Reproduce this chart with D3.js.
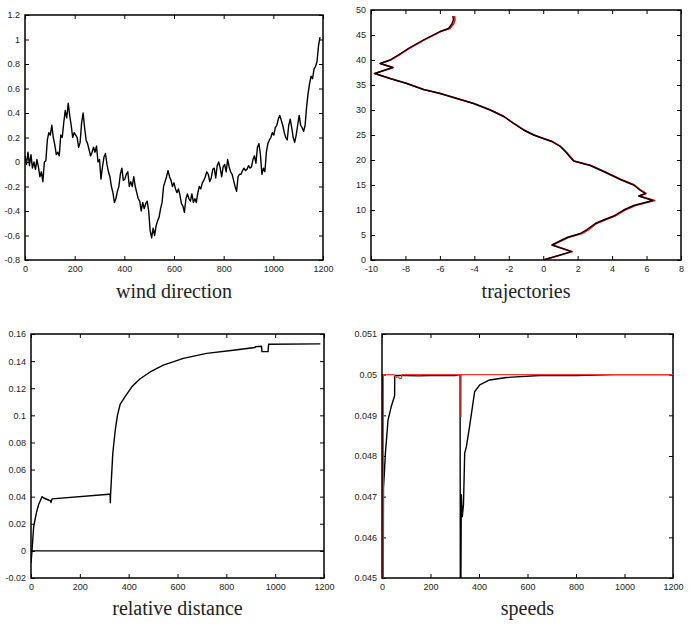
<!DOCTYPE html>
<html>
<head>
<meta charset="utf-8">
<script src="https://cdn.jsdelivr.net/npm/d3@7"></script>
<style>
  body { margin: 0; background: #fff; }
  .tick text { font-family: "Liberation Sans", Arial, sans-serif; font-size: 9px; fill: #222; }
  .tick line { stroke: #000; stroke-width: 1; }
  .title { font-family: "Liberation Serif", "DejaVu Serif", serif; font-size: 20px; fill: #222; }
</style>
</head>
<body>
<svg width="690" height="626"></svg>
<script>

// wind direction, one value every 6 time steps from t = 0
var windStep = 6;
var windV = [0.05, -0.02, 0.08, -0.03, 0.06, -0.05, 0.0, -0.06, 0.02, -0.04, -0.12, -0.08, -0.16, 0.0, 0.01, 0.18, 0.24, 0.22, 0.3, 0.2,
  0.14, 0.06, 0.08, 0.05, 0.22, 0.2, 0.32, 0.42, 0.36, 0.48, 0.38, 0.3, 0.2, 0.24, 0.22, 0.2, 0.12, 0.16, 0.32, 0.4,
  0.28, 0.18, 0.15, 0.1, 0.05, 0.08, 0.12, 0.08, 0.13, 0.0, 0.02, -0.14, -0.04, 0.04, 0.07, -0.02, -0.08, -0.12, -0.2, -0.25,
  -0.33, -0.3, -0.24, -0.2, -0.1, -0.05, -0.15, -0.14, -0.1, -0.08, -0.2, -0.16, -0.2, -0.12, -0.2, -0.25, -0.3, -0.32, -0.4, -0.33,
  -0.38, -0.34, -0.32, -0.4, -0.56, -0.62, -0.54, -0.6, -0.52, -0.48, -0.45, -0.38, -0.33, -0.2, -0.16, -0.12, -0.07, -0.12, -0.15, -0.2,
  -0.17, -0.22, -0.25, -0.22, -0.27, -0.34, -0.36, -0.41, -0.3, -0.26, -0.3, -0.32, -0.26, -0.33, -0.3, -0.33, -0.25, -0.2, -0.22, -0.17,
  -0.15, -0.12, -0.08, -0.1, -0.16, -0.13, -0.06, -0.05, -0.13, -0.03, 0.0, -0.05, -0.12, -0.04, -0.02, -0.08, 0.02, -0.04, -0.08, -0.1,
  -0.15, -0.2, -0.24, -0.12, -0.1, -0.1, -0.07, -0.05, -0.07, -0.06, -0.03, -0.05, -0.04, 0.02, 0.05, -0.01, 0.12, 0.15, 0.06, -0.1,
  -0.05, -0.08, 0.08, 0.15, 0.18, 0.2, 0.24, 0.22, 0.28, 0.3, 0.35, 0.38, 0.34, 0.3, 0.24, 0.2, 0.18, 0.3, 0.35, 0.28,
  0.2, 0.16, 0.22, 0.3, 0.38, 0.3, 0.28, 0.25, 0.3, 0.45, 0.56, 0.64, 0.7, 0.68, 0.76, 0.78, 0.82, 0.95, 1.02];

// trajectories (x, y)
var trajY      = [0, 1.67, 3.0, 4.5, 5.3, 6.1, 7.3, 8.0, 8.8, 10.0, 10.9, 11.9, 12.8, 13.3, 13.9, 15.0, 16.1, 17.7, 18.9, 19.8, 20.7, 21.7, 22.7, 23.7, 24.3, 25.0, 26.0, 27.3, 28.7, 30.0, 31.3, 32.3, 33.3, 34.1, 35.3, 36.3, 37.3, 38.5, 39.3, 40.0, 41.0, 42.3, 44.0, 45.7, 46.3, 47.2, 48.1, 48.8];
var trajBlackX = [0, 1.63, 0.5, 1.38, 2.15, 2.54, 3.02, 3.5, 4.09, 4.67, 5.25, 6.36, 5.54, 5.93, 5.64, 5.25, 4.48, 3.5, 2.73, 1.76, 1.53, 1.28, 0.99, 0.5, 0, -0.56, -1.14, -1.72, -2.3, -3.08, -4.05, -5.02, -5.99, -6.96, -7.93, -8.9, -9.77, -8.74, -9.48, -8.9, -8.41, -7.83, -6.96, -5.99, -5.5, -5.31, -5.21, -5.25];
var trajRedX   = [0.02, 1.7, 0.55, 1.45, 2.25, 2.65, 3.1, 3.58, 4.17, 4.75, 5.35, 6.48, 5.6, 5.98, 5.7, 5.3, 4.52, 3.55, 2.77, 1.8, 1.57, 1.32, 1.02, 0.53, 0.03, -0.53, -1.11, -1.69, -2.27, -3.05, -4.02, -4.99, -5.96, -6.93, -7.9, -8.87, -9.8, -8.7, -9.45, -8.86, -8.37, -7.8, -6.92, -5.95, -5.42, -5.2, -5.12, -5.15];

// relative distance
var relT = [0, 4, 11, 22, 31, 45, 52, 79, 82, 86, 320, 324, 325, 326, 329, 335, 345, 354, 365, 386, 413, 447, 488, 542, 624, 719, 828, 917, 919, 944, 946, 971, 973, 1185];
var relD = [-0.009, 0, 0.018, 0.028, 0.034, 0.04, 0.039, 0.037, 0.0357, 0.0384, 0.0418, 0.0418, 0.0355, 0.042, 0.052, 0.072, 0.089, 0.1, 0.108, 0.114, 0.121, 0.127, 0.132, 0.137, 0.142, 0.1457, 0.148, 0.15, 0.1507, 0.151, 0.147, 0.147, 0.1524, 0.1527];

// speeds
var speedBlackT = [0, 3, 3.5, 5, 6, 10, 14, 25, 38, 52, 52.5, 100, 150, 200, 250, 300, 322, 323, 325, 327, 331, 336, 341, 348, 361, 382, 403, 444, 513, 650, 800, 966, 1200];
var speedBlackV = [0.05, 0.05, 0.0445, 0.0445, 0.04722, 0.0476, 0.04807, 0.04889, 0.04921, 0.04948, 0.04998, 0.04998, 0.04997, 0.04998, 0.04998, 0.04998, 0.05, 0.0445, 0.0445, 0.04705, 0.04651, 0.0468, 0.04807, 0.04823, 0.04872, 0.04958, 0.04975, 0.04987, 0.04993, 0.04998, 0.04998, 0.05, 0.05];
var speedRedT = [0, 5, 6, 50, 52, 60, 66, 72, 80, 82, 325, 326, 326.5, 1200];
var speedRedV = [0.0445, 0.0445, 0.05, 0.05, 0.04997, 0.04993, 0.04995, 0.04991, 0.04991, 0.05, 0.05, 0.04897, 0.05, 0.05];

var svg = d3.select("svg");

function fmt(v) { return String(+v.toFixed(4)); }

// one framed panel with inward ticks on all four sides
function panel(id, box, xDom, yDom, xTicks, yTicks, title, titleY) {
  var x = d3.scaleLinear().domain(xDom).range([box.x0, box.x1]);
  var y = d3.scaleLinear().domain(yDom).range([box.y1, box.y0]);
  var g = svg.append("g");

  g.append("clipPath").attr("id", id)
    .append("rect")
    .attr("x", box.x0).attr("y", box.y0)
    .attr("width", box.x1 - box.x0).attr("height", box.y1 - box.y0);

  g.append("g").attr("transform", "translate(0," + box.y1 + ")")
    .call(d3.axisBottom(x).tickValues(xTicks).tickSize(-4).tickPadding(6).tickFormat(fmt));
  g.append("g").attr("transform", "translate(0," + box.y0 + ")")
    .call(d3.axisTop(x).tickValues(xTicks).tickSize(-4).tickFormat(""));
  g.append("g").attr("transform", "translate(" + box.x0 + ",0)")
    .call(d3.axisLeft(y).tickValues(yTicks).tickSize(-4).tickPadding(5).tickFormat(fmt));
  g.append("g").attr("transform", "translate(" + box.x1 + ",0)")
    .call(d3.axisRight(y).tickValues(yTicks).tickSize(-4).tickFormat(""));
  g.selectAll(".domain").remove();

  g.append("rect")
    .attr("x", box.x0).attr("y", box.y0)
    .attr("width", box.x1 - box.x0).attr("height", box.y1 - box.y0)
    .attr("fill", "none").attr("stroke", "#000").attr("stroke-width", 1.5);

  g.append("text").attr("class", "title")
    .attr("x", (box.x0 + box.x1) / 2).attr("y", titleY)
    .attr("text-anchor", "middle")
    .text(title);

  var plot = g.append("g").attr("clip-path", "url(#" + id + ")");
  return { x: x, y: y, plot: plot };
}

function drawLine(p, xs, ys, color, w) {
  var line = d3.line().x(function (d) { return p.x(d[0]); }).y(function (d) { return p.y(d[1]); });
  p.plot.append("path")
    .datum(xs.map(function (v, i) { return [v, ys[i]]; }))
    .attr("d", line)
    .attr("fill", "none")
    .attr("stroke", color)
    .attr("stroke-width", w)
    .attr("stroke-linejoin", "round");
}

// wind direction
var p1 = panel("c1", { x0: 25, x1: 323, y0: 15, y1: 260 }, [0, 1200], [-0.8, 1.2],
  d3.range(0, 1201, 200), d3.range(-0.8, 1.21, 0.2), "wind direction", 298);
drawLine(p1, windV.map(function (v, i) { return i * windStep; }), windV, "#000", 1.4);

// trajectories
var p2 = panel("c2", { x0: 371, x1: 681, y0: 10, y1: 260 }, [-10, 8], [0, 50],
  d3.range(-10, 8.1, 2), d3.range(0, 50.1, 5), "trajectories", 298);
drawLine(p2, trajRedX, trajY, "#ff0000", 1.5);
drawLine(p2, trajBlackX, trajY, "#000", 1.4);

// relative distance
var p3 = panel("c3", { x0: 31, x1: 324, y0: 334, y1: 578 }, [0, 1200], [-0.02, 0.16],
  d3.range(0, 1201, 200), d3.range(-0.02, 0.161, 0.02), "relative distance", 615);
drawLine(p3, [0, 1200], [0, 0], "#000", 1.2);
drawLine(p3, relT, relD, "#000", 1.4);

// speeds
var p4 = panel("c4", { x0: 382, x1: 673, y0: 334, y1: 578 }, [0, 1200], [0.045, 0.051],
  d3.range(0, 1201, 200), d3.range(0.045, 0.05101, 0.001), "speeds", 615);
drawLine(p4, speedBlackT, speedBlackV, "#000", 1.4);
drawLine(p4, speedRedT, speedRedV, "#ff3030", 1.1);

</script>
</body>
</html>
